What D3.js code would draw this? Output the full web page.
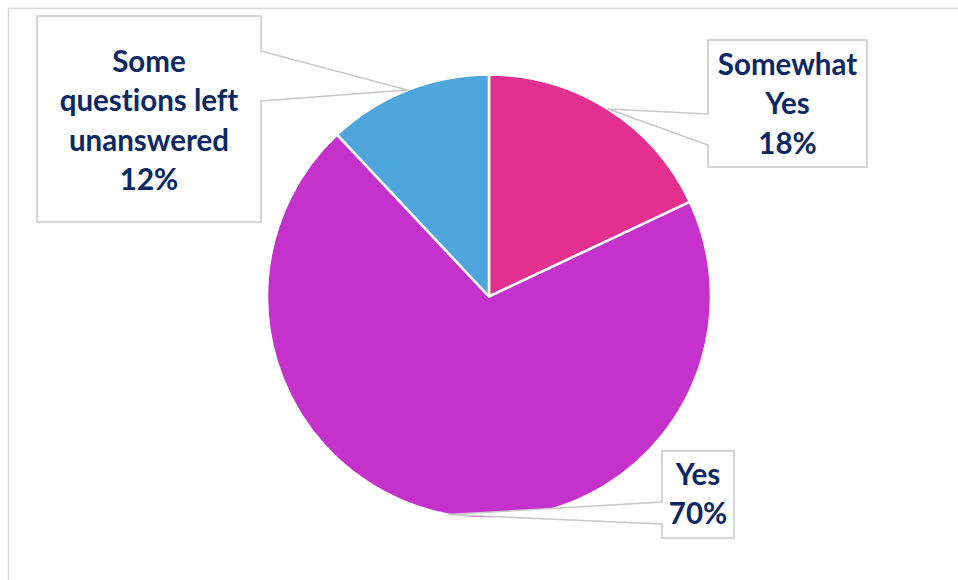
<!DOCTYPE html>
<html>
<head>
<meta charset="utf-8">
<script src="https://cdn.jsdelivr.net/npm/d3@7"></script>
<style>
  html, body { margin: 0; padding: 0; background: #fff; }
  svg { display: block; }
  text { font-variant-ligatures: none; font-feature-settings: "liga" 0, "clig" 0, "dlig" 0; }
</style>
</head>
<body>
<svg id="chart" width="958" height="580"></svg>
<script>
// ---- data ----
const categories = ["Somewhat Yes", "Yes", "Some questions left unanswered"];
const values = [18, 70, 12];
const labelLines = [["Somewhat", "Yes"], ["Yes"], ["Some", "questions left", "unanswered"]];
const colors = ["#E3308F", "#C532CB", "#4FA6DC"];

// ---- layout ----
const W = 958, H = 580;
const cx = 489, cy = 296.5, R = 222;
const svg = d3.select("#chart");

// outer chart frame
svg.append("rect")
  .attr("x", 8.5).attr("y", 8.5)
  .attr("width", W + 20).attr("height", H + 20)
  .attr("fill", "none").attr("stroke", "#d9d9d9").attr("stroke-width", 1.5);

const data = categories.map((c, i) => ({ cat: c, value: values[i], lines: labelLines[i], color: colors[i] }));

const pie = d3.pie().value(d => d.value).sort(null);
const arcs = pie(data);
const arc = d3.arc().innerRadius(0).outerRadius(R);

const g = svg.append("g").attr("transform", `translate(${cx},${cy})`);
g.selectAll("path.slice")
  .data(arcs)
  .join("path")
  .attr("class", "slice")
  .attr("d", arc)
  .attr("fill", d => d.data.color)
  .attr("stroke", "#fff")
  .attr("stroke-width", 2.5)
  .attr("stroke-linejoin", "round");

// label boxes (callouts): box rect, side of pointer, pointer base y-range, text baselines
const boxes = [
  { x: 708, y: 40, w: 159, h: 127, side: "left", py0: 114, py1: 145, base: 75 },
  { x: 662, y: 451, w: 72, h: 87, side: "left", py0: 502, py1: 524, base: 485 },
  { x: 37, y: 16, w: 224, h: 206, side: "right", py0: 51, py1: 101, base: 72 }
];
const lineH = 39.3;

arcs.forEach((a, i) => {
  const b = boxes[i];
  const mid = (a.startAngle + a.endAngle) / 2;
  const tx = cx + R * Math.sin(mid);
  const ty = cy - R * Math.cos(mid);
  const x0 = b.x, y0 = b.y, x1 = b.x + b.w, y1 = b.y + b.h;
  let p;
  if (b.side === "left") {
    p = `M${x0},${y0}L${x1},${y0}L${x1},${y1}L${x0},${y1}L${x0},${b.py1}L${tx},${ty}L${x0},${b.py0}Z`;
  } else {
    p = `M${x0},${y0}L${x1},${y0}L${x1},${b.py0}L${tx},${ty}L${x1},${b.py1}L${x1},${y1}L${x0},${y1}Z`;
  }
  svg.append("path")
    .attr("d", p)
    .attr("fill", "#fff")
    .attr("stroke", "#c8c8c8")
    .attr("stroke-width", 1.5)
    .attr("stroke-linejoin", "miter");

  const lines = a.data.lines.concat([a.data.value + "%"]);
  const t = svg.append("text")
    .attr("text-anchor", "middle")
    .attr("font-family", "Lato, 'Open Sans', sans-serif")
    .attr("font-weight", "bold")
    .attr("font-size", 29.5)
    .attr("fill", "#0B2866");
  lines.forEach((ln, k) => {
    t.append("tspan")
      .attr("x", b.x + b.w / 2)
      .attr("y", b.base + k * lineH)
      .text(ln);
  });
});
</script>
</body>
</html>
